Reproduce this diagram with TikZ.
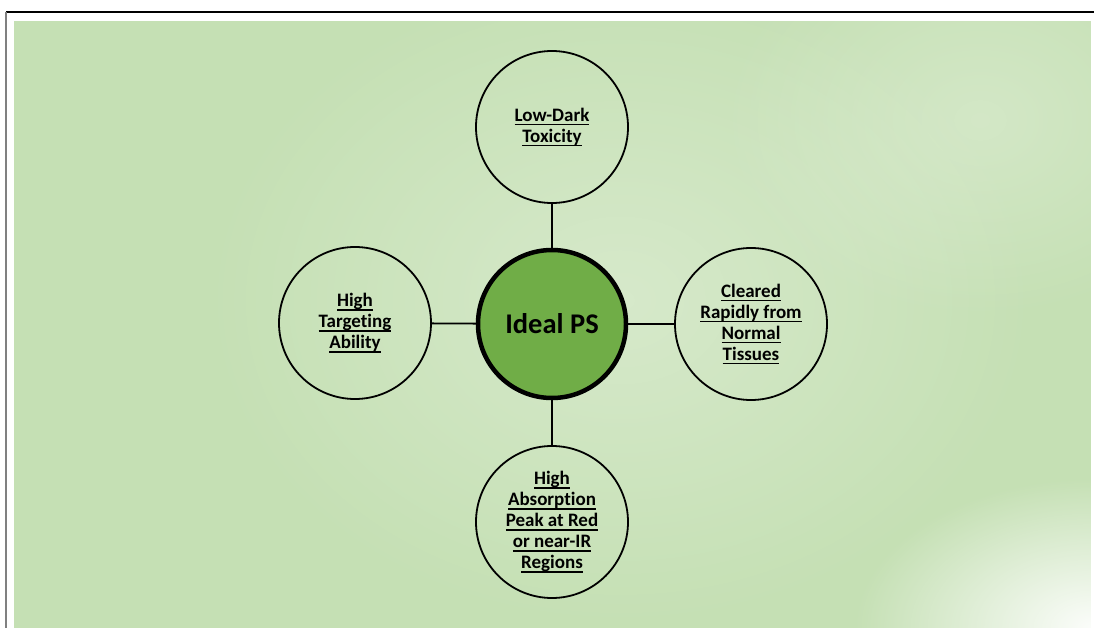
\documentclass[tikz,border=0pt]{standalone}
\usepackage{fontspec}
\setmainfont{Carlito}[Ligatures=NoCommon]
\usetikzlibrary{fadings}

\definecolor{bggreen}{HTML}{C5E0B4}
\definecolor{psgreen}{HTML}{70AD47}

\tikzfading[name=glow, inner color=transparent!0, outer color=transparent!100]

% underline at a fixed depth, as in the slide
\newcommand{\ulword}[1]{\setbox0\hbox{#1}\rlap{\rule[-4pt]{\wd0}{1.4pt}}\box0}

\tikzset{
  property/.style={circle, draw=black, line width=1.8pt, minimum size=152pt,
    inner sep=0pt, align=center, font=\fontsize{19}{21}\selectfont\bfseries},
  core/.style={circle, draw=black, line width=4.5pt, fill=psgreen, minimum size=148pt,
    inner sep=0pt, font=\fontsize{28.5}{32}\selectfont\bfseries},
  link/.style={draw=black, line width=1.8pt}
}

\begin{document}
\begin{tikzpicture}[x=1pt, y=-1pt]
        \useasboundingbox (0,0) rectangle (1094,628);

        % background
        \fill[bggreen] (14,21) rectangle (1091,628);
        \begin{scope}
          \clip (14,21) rectangle (1091,628);
          \fill[white, opacity=0.3, path fading=glow] (620,300) ellipse (420 and 330);
          \fill[white, opacity=0.25, path fading=glow] (980,120) ellipse (260 and 200);
          \fill[white, opacity=0.95, path fading=glow] (1094,628) ellipse (240 and 150);
        \end{scope}
        \draw[black, line width=1.5pt] (6,12) -- (1094,12);
        \draw[gray, line width=2pt] (6,12) -- (6,628);

        \node[core] (ideal) at (552,324) {Ideal PS};

        \node[property] (toxicity) at (552,127) {\ulword{Low-Dark}\\ \ulword{Toxicity}};
        \node[property] (targeting) at (355,323) {\ulword{High}\\ \ulword{Targeting}\\ \ulword{Ability}};
        \node[property] (cleared) at (751,324) {\ulword{Cleared}\\ \ulword{Rapidly from}\\ \ulword{Normal}\\ \ulword{Tissues}};
        \node[property] (absorption) at (552,522) {\ulword{High}\\ \ulword{Absorption}\\ \ulword{Peak at Red}\\ \ulword{or near-IR}\\ \ulword{Regions}};

        \draw[link] (ideal) -- (toxicity);
        \draw[link] (ideal) -- (targeting);
        \draw[link] (ideal) -- (cleared);
        \draw[link] (ideal) -- (absorption);

\end{tikzpicture}
\end{document}
